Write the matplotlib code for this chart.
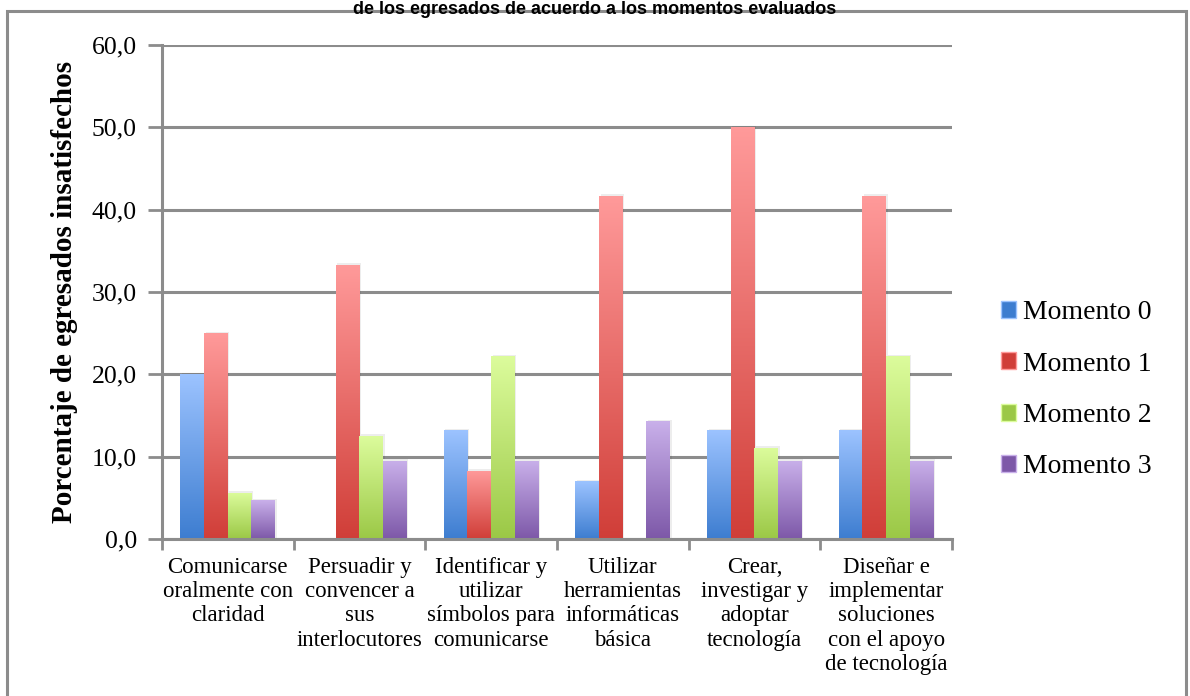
import matplotlib
matplotlib.use("Agg")
import matplotlib.pyplot as plt
import numpy as np
from matplotlib.colors import LinearSegmentedColormap
from matplotlib.patches import Rectangle

"""data---------------------------------------------------------------------"""

categorias = ["Comunicarse\noralmente con\nclaridad",
              "Persuadir y\nconvencer a\nsus\ninterlocutores",
              "Identificar y\nutilizar\nsímbolos para\ncomunicarse",
              "Utilizar\nherramientas\ninformáticas\nbásica",
              "Crear,\ninvestigar y\nadoptar\ntecnología",
              "Diseñar e\nimplementar\nsoluciones\ncon el apoyo\nde tecnología"]
series = ["Momento 0", "Momento 1", "Momento 2", "Momento 3"]
momento0 = [20.0, 0.0, 13.2, 7.0, 13.2, 13.2]
momento1 = [25.0, 33.3, 8.3, 41.7, 50.0, 41.7]
momento2 = [5.6, 12.5, 22.2, 0.0, 11.1, 22.2]
momento3 = [4.7, 9.5, 9.5, 14.3, 9.5, 9.5]
valores = [momento0, momento1, momento2, momento3]

# colores arriba / abajo para el degradado
arriba = ["#9cc3ff", "#ff9a9a", "#dcfc9c", "#c9b0ea"]
abajo = ["#3d7dd0", "#d03e38", "#9bc846", "#7d58a8"]

"""figure-------------------------------------------------------------------"""

plt.rcParams['font.family'] = ['Liberation Serif', 'DejaVu Serif']
fig = plt.figure(figsize=(11.9, 6.96), dpi=100)
ax = fig.add_axes([0.136, 0.2256, 0.664, 0.7097])

# borde gris alrededor
fig.patches.append(Rectangle((0.0059, -0.05), 0.9908, 1.0342, transform=fig.transFigure,
                             fill=False, ec="#8c8c8c", lw=2.2))
fig.text(0.5, 0.999, "de los egresados de acuerdo a los momentos evaluados",
         ha="center", va="top", fontsize=13, fontweight="bold",
         family=["Liberation Sans", "DejaVu Sans"])

x = np.arange(len(categorias)) + 0.5
ancho = 0.18
grad = np.linspace(0, 1, 256).reshape(-1, 1)
for i, vals in enumerate(valores):
    pos = x + (i - 1.5) * ancho
    barras = ax.bar(pos, vals, width=ancho, color=abajo[i], zorder=3, lw=0)
    cmap = LinearSegmentedColormap.from_list("g%d" % i, [abajo[i], arriba[i]])
    for b in barras:
        h = b.get_height()
        if h <= 0:
            continue
        x0 = b.get_x()
        # sombra suave
        ax.add_patch(Rectangle((x0 + 0.012, 0), b.get_width(), h + 0.2,
                               color="#000000", alpha=0.07, lw=0, zorder=2))
        im = ax.imshow(grad, extent=(x0, x0 + b.get_width(), 0, h), origin="lower",
                       cmap=cmap, aspect="auto", zorder=4)
        im.set_clip_path(b)

ax.set_xlim(0, 6)
ax.set_ylim(0, 60)
ticks = np.arange(0, 61, 10)
ax.set_yticks(ticks)
ax.set_yticklabels([("%.1f" % v).replace(".", ",") for v in ticks])
ax.set_xticks(np.arange(0, 7))
ax.set_xticklabels([])
ax.set_xticks(x, minor=True)
ax.set_xticklabels(categorias, minor=True, fontsize=16.5, linespacing=1.2)
ax.tick_params(axis="x", which="minor", length=0, pad=13)
ax.tick_params(axis="x", which="major", length=8, width=2, color="#8c8c8c", direction="out")
ax.tick_params(axis="y", length=10, width=2, color="#8c8c8c", labelsize=18.5, pad=8)
ax.grid(axis="y", color="#8c8c8c", lw=2.2, zorder=1)
for s in ["top", "right"]:
    ax.spines[s].set_visible(False)
for s in ["left", "bottom"]:
    ax.spines[s].set_color("#8c8c8c")
    ax.spines[s].set_linewidth(2.2)
    ax.spines[s].set_zorder(5)

ax.set_ylabel("Porcentaje de egresados insatisfechos", fontsize=21, fontweight="bold",
              labelpad=10)

handles = [Rectangle((0, 0), 1, 1, fc=abajo[i], ec=arriba[i]) for i in range(4)]
ax.legend(handles, series, loc="center left", bbox_to_anchor=(1.062, 0.302),
          borderaxespad=0, borderpad=0, frameon=False, fontsize=20,
          handlelength=0.55, handleheight=0.55, handletextpad=0.25, labelspacing=0.95)

plt.savefig("out.png")
